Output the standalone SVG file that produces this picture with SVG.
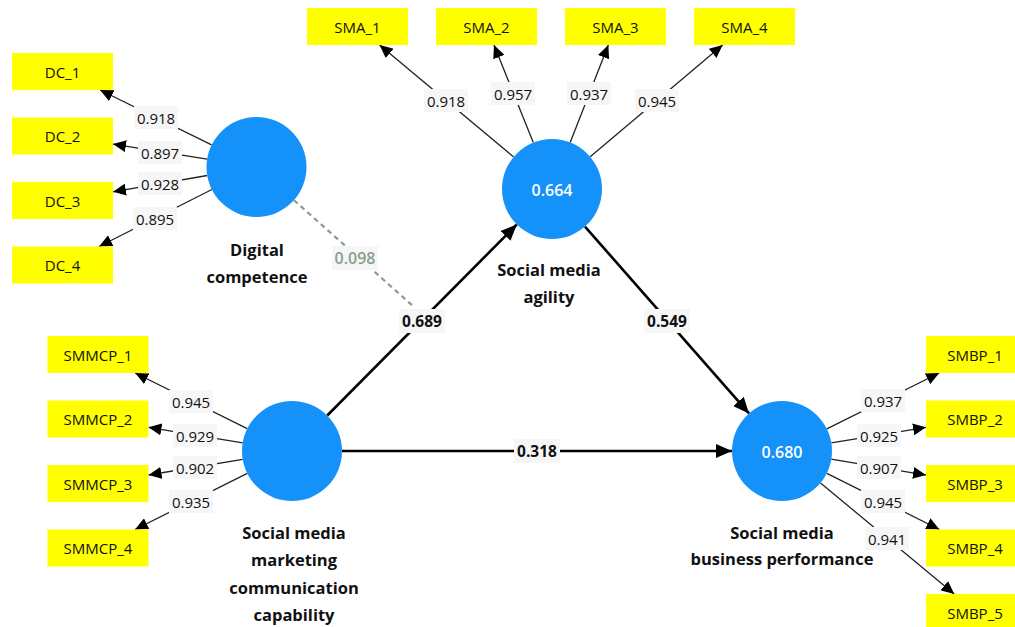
<svg xmlns="http://www.w3.org/2000/svg" width="1015" height="627" viewBox="0 0 1015 627">
<style>
.ind{fill:#ffff00}
.indt{font-family:"Open Sans","Liberation Sans",sans-serif;font-size:15px;fill:#111;text-anchor:middle;dominant-baseline:central}
.lv{fill:#1592fa}
.lvt{font-family:"Open Sans","Liberation Sans",sans-serif;font-size:16px;font-weight:600;fill:#fff;text-anchor:middle;dominant-baseline:central}
.name{font-family:"Open Sans","Liberation Sans",sans-serif;font-size:16.5px;font-weight:700;fill:#111;text-anchor:middle}
.ld{stroke:#222;stroke-width:1.3;fill:none;marker-end:url(#sa)}
.st{stroke:#000;stroke-width:2.6;fill:none;marker-end:url(#la)}
.lb{fill:#f6f6f6}
.lt{font-family:"Open Sans","Liberation Sans",sans-serif;font-size:15px;fill:#111;text-anchor:middle;dominant-baseline:central}
.bt{font-family:"Open Sans","Liberation Sans",sans-serif;font-size:15.5px;font-weight:700;fill:#111;text-anchor:middle;dominant-baseline:central}
.gt{font-family:"Open Sans","Liberation Sans",sans-serif;font-size:16px;font-weight:600;fill:#8a9e8a;text-anchor:middle;dominant-baseline:central}
</style>
<defs>
<marker id="sa" markerUnits="userSpaceOnUse" markerWidth="13" markerHeight="12" refX="13" refY="6" orient="auto"><path d="M0,0 L13,6 L0,12 z" fill="#000"/></marker>
<marker id="la" markerUnits="userSpaceOnUse" markerWidth="16" markerHeight="14" refX="16" refY="7" orient="auto"><path d="M0,0 L16,7 L0,14 z" fill="#000"/></marker>
</defs>
<rect width="1015" height="627" fill="#fff"/>
<g id="connectors">
<line class="ld" x1="211.6" y1="144.9" x2="100.1" y2="90"/>
<line class="ld" x1="207.1" y1="159.1" x2="113" y2="144.1"/>
<line class="ld" x1="207.2" y1="175.5" x2="113" y2="191.8"/>
<line class="ld" x1="211.9" y1="189.5" x2="99.1" y2="246.5"/>
<line class="ld" x1="513.6" y1="156.9" x2="379.6" y2="45"/>
<line class="ld" x1="533.3" y1="142.6" x2="494" y2="45"/>
<line class="ld" x1="570.2" y1="142.4" x2="608.3" y2="45"/>
<line class="ld" x1="590.2" y1="156.7" x2="722.6" y2="45"/>
<line class="ld" x1="247.2" y1="428.7" x2="135.2" y2="373"/>
<line class="ld" x1="242.7" y1="442.9" x2="148.5" y2="427.3"/>
<line class="ld" x1="242.7" y1="459.3" x2="148.5" y2="475"/>
<line class="ld" x1="247.3" y1="473.4" x2="135" y2="529.5"/>
<line class="ld" x1="826.8" y1="428.8" x2="939.2" y2="373"/>
<line class="ld" x1="831.3" y1="442.9" x2="926" y2="427.3"/>
<line class="ld" x1="831.3" y1="459.2" x2="926" y2="475.1"/>
<line class="ld" x1="826.8" y1="473.3" x2="939.4" y2="529.5"/>
<line class="ld" x1="820.5" y1="482.9" x2="954.2" y2="594"/>
<line class="st" x1="327.2" y1="415.5" x2="516.8" y2="224.5"/>
<line class="st" x1="585" y1="226.6" x2="749" y2="413.4"/>
<line class="st" x1="342" y1="451" x2="732" y2="451"/>
<line x1="293.9" y1="200.2" x2="413" y2="306" stroke="#8a9e8a" stroke-width="2.2" stroke-dasharray="5,4"/>
<g id="loading-labels">
<rect class="lb" x="134" y="106" width="44" height="23"/><text class="lt" x="156" y="117.5">0.918</text>
<rect class="lb" x="138" y="141" width="44" height="23"/><text class="lt" x="160" y="152.5">0.897</text>
<rect class="lb" x="138" y="172" width="44" height="23"/><text class="lt" x="160" y="183.5">0.928</text>
<rect class="lb" x="133" y="207" width="44" height="23"/><text class="lt" x="155" y="218.5">0.895</text>
<rect class="lb" x="424" y="89" width="44" height="23"/><text class="lt" x="446" y="100.5">0.918</text>
<rect class="lb" x="491" y="82" width="44" height="23"/><text class="lt" x="513" y="93.5">0.957</text>
<rect class="lb" x="567" y="82" width="44" height="23"/><text class="lt" x="589" y="93.5">0.937</text>
<rect class="lb" x="635" y="89" width="44" height="23"/><text class="lt" x="657" y="100.5">0.945</text>
<rect class="lb" x="169" y="390" width="44" height="23"/><text class="lt" x="191" y="401.5">0.945</text>
<rect class="lb" x="173" y="424" width="44" height="23"/><text class="lt" x="195" y="435.5">0.929</text>
<rect class="lb" x="173" y="456" width="44" height="23"/><text class="lt" x="195" y="467.5">0.902</text>
<rect class="lb" x="169" y="490" width="44" height="23"/><text class="lt" x="191" y="501.5">0.935</text>
<rect class="lb" x="861" y="389" width="44" height="23"/><text class="lt" x="883" y="400.5">0.937</text>
<rect class="lb" x="857" y="424" width="44" height="23"/><text class="lt" x="879" y="435.5">0.925</text>
<rect class="lb" x="857" y="456" width="44" height="23"/><text class="lt" x="879" y="467.5">0.907</text>
<rect class="lb" x="861" y="490" width="44" height="23"/><text class="lt" x="883" y="501.5">0.945</text>
<rect class="lb" x="865" y="527" width="44" height="23"/><text class="lt" x="887" y="538.5">0.941</text>
</g>
<g id="path-labels">
<rect class="lb" x="399" y="309" width="46" height="24"/><text class="bt" x="422" y="321">0.689</text>
<rect class="lb" x="644" y="309" width="46" height="24"/><text class="bt" x="667" y="321">0.549</text>
<rect class="lb" x="514" y="439" width="46" height="24"/><text class="bt" x="537" y="451">0.318</text>
<rect class="lb" x="332" y="246" width="46" height="24"/><text class="gt" x="355" y="258">0.098</text>
</g>
</g>
<g id="DC_1"><rect class="ind" x="12" y="53" width="101" height="37"/><text class="indt" x="62.5" y="71.5">DC_1</text></g>
<g id="DC_2"><rect class="ind" x="12" y="117.5" width="101" height="37"/><text class="indt" x="62.5" y="136">DC_2</text></g>
<g id="DC_3"><rect class="ind" x="12" y="182" width="101" height="37"/><text class="indt" x="62.5" y="200.5">DC_3</text></g>
<g id="DC_4"><rect class="ind" x="12" y="246.5" width="101" height="37"/><text class="indt" x="62.5" y="265">DC_4</text></g>
<g id="SMA_1"><rect class="ind" x="307" y="8" width="101" height="37"/><text class="indt" x="357.5" y="26.5">SMA_1</text></g>
<g id="SMA_2"><rect class="ind" x="436" y="8" width="101" height="37"/><text class="indt" x="486.5" y="26.5">SMA_2</text></g>
<g id="SMA_3"><rect class="ind" x="565" y="8" width="101" height="37"/><text class="indt" x="615.5" y="26.5">SMA_3</text></g>
<g id="SMA_4"><rect class="ind" x="694" y="8" width="101" height="37"/><text class="indt" x="744.5" y="26.5">SMA_4</text></g>
<g id="SMMCP_1"><rect class="ind" x="47.5" y="336" width="101" height="37"/><text class="indt" x="98" y="354.5">SMMCP_1</text></g>
<g id="SMMCP_2"><rect class="ind" x="47.5" y="400.5" width="101" height="37"/><text class="indt" x="98" y="419">SMMCP_2</text></g>
<g id="SMMCP_3"><rect class="ind" x="47.5" y="465" width="101" height="37"/><text class="indt" x="98" y="483.5">SMMCP_3</text></g>
<g id="SMMCP_4"><rect class="ind" x="47.5" y="529.5" width="101" height="37"/><text class="indt" x="98" y="548">SMMCP_4</text></g>
<g id="SMBP_1"><rect class="ind" x="926" y="336" width="101" height="37"/><text class="indt" x="975" y="354.5">SMBP_1</text></g>
<g id="SMBP_2"><rect class="ind" x="926" y="400.5" width="101" height="37"/><text class="indt" x="975" y="419">SMBP_2</text></g>
<g id="SMBP_3"><rect class="ind" x="926" y="465" width="101" height="37"/><text class="indt" x="975" y="483.5">SMBP_3</text></g>
<g id="SMBP_4"><rect class="ind" x="926" y="529.5" width="101" height="37"/><text class="indt" x="975" y="548">SMBP_4</text></g>
<g id="SMBP_5"><rect class="ind" x="926" y="594" width="101" height="37"/><text class="indt" x="975" y="612.5">SMBP_5</text></g>
<g id="DC"><circle class="lv" cx="256.5" cy="167" r="50"/><text class="name" x="257" y="256">Digital</text><text class="name" x="257" y="283">competence</text></g>
<g id="SMA"><circle class="lv" cx="552" cy="189" r="50"/><text class="lvt" x="552" y="190">0.664</text><text class="name" x="549" y="276">Social media</text><text class="name" x="549" y="303">agility</text></g>
<g id="SMMCP"><circle class="lv" cx="292" cy="451" r="50"/><text class="name" x="294" y="539">Social media</text><text class="name" x="294" y="566">marketing</text><text class="name" x="294" y="594">communication</text><text class="name" x="294" y="621">capability</text></g>
<g id="SMBP"><circle class="lv" cx="782" cy="451" r="50"/><text class="lvt" x="782" y="452">0.680</text><text class="name" x="782" y="539">Social media</text><text class="name" x="782" y="565">business performance</text></g>
</svg>
